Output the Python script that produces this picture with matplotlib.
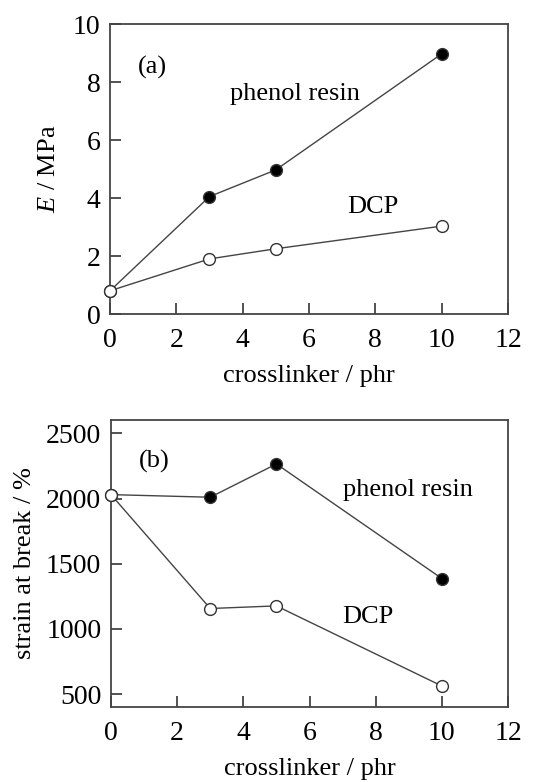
import numpy as np
import matplotlib
matplotlib.use("Agg")
import matplotlib.pyplot as plt

plt.rcParams['font.family'] = ['Liberation Serif', 'DejaVu Serif']
plt.rcParams['mathtext.fontset'] = 'custom'
plt.rcParams['mathtext.it'] = 'Liberation Serif:italic'

# crosslinker content (phr)
phr = [0, 3, 5, 10]

# (a) Young's modulus, MPa
E_phenol = [0.8, 4.05, 4.97, 8.97]
E_dcp = [0.8, 1.9, 2.25, 3.03]

# (b) strain at break, %
strain_phenol = [2030, 2010, 2265, 1387]
strain_dcp = [2030, 1157, 1177, 563]

xticks = [0, 2, 4, 6, 8, 10, 12]

fig = plt.figure(figsize=(5.58, 7.82), dpi=100)
ax1 = fig.add_axes([110/558, 1-314/782, 398/558, 290/782])
ax2 = fig.add_axes([111/558, 1-707/782, 397/558, 287/782])

lc = '#444444'
fs = 19

def style(ax):
    for s in ax.spines.values():
        s.set_color('#444444')
        s.set_linewidth(1.3)
    ax.tick_params(direction='in', length=8, width=1.3, color='#444444',
                   labelsize=20, top=False, right=False, pad=7)
    ax.tick_params(axis='x', pad=10)
    ax.set_xlim(0, 12)
    ax.set_xticks(xticks)
    ax.set_xlabel('crosslinker / phr', fontsize=fs, labelpad=9)

def series(ax, y, filled):
    ax.plot(phr, y, '-', color=lc, lw=1.0, marker='o', ms=8.5,
            mfc='black' if filled else 'white', mec='#333333', mew=1.0, clip_on=False,
            zorder=3)

# top panel
style(ax1)
ax1.set_ylim(0, 10)
ax1.set_yticks([0, 2, 4, 6, 8, 10])
series(ax1, E_phenol, True)
series(ax1, E_dcp, False)
ax1.set_ylabel('$E$ / MPa', fontsize=fs, labelpad=9)
ax1.text(0.85, 8.5, '(a)', fontsize=fs, va='center')
ax1.text(3.62, 7.6, 'phenol resin', fontsize=fs, va='center')
ax1.text(7.14, 3.69, 'DCP', fontsize=fs, va='center')

# bottom panel
style(ax2)
ax2.set_ylim(402, 2602)
ax2.set_yticks([500, 1000, 1500, 2000, 2500])
series(ax2, strain_phenol, True)
series(ax2, strain_dcp, False)
ax2.set_ylabel('strain at break / %', fontsize=fs, labelpad=7)
ax2.text(0.85, 2282, '(b)', fontsize=fs, va='center')
ax2.text(7.0, 2065, 'phenol resin', fontsize=fs, va='center')
ax2.text(7.0, 1093, 'DCP', fontsize=fs, va='center')

fig.savefig('out.png', dpi=100)
